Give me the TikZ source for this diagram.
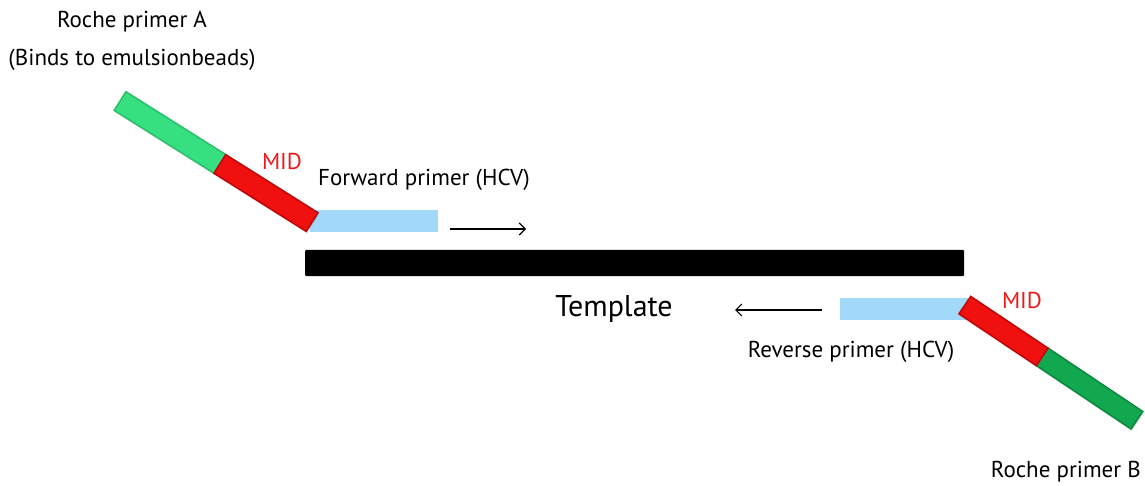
\documentclass[tikz,border=0pt]{standalone}
\usepackage{fontspec}
\setmainfont{PT Sans}
\usetikzlibrary{arrows.meta,shadows}
\definecolor{gA}{HTML}{36E080}
\definecolor{gAd}{HTML}{2CC06C}
\definecolor{gB}{HTML}{12A850}
\definecolor{gBd}{HTML}{0C8A40}
\definecolor{rd}{HTML}{F01010}
\definecolor{rdd}{HTML}{C00808}
\definecolor{bl}{HTML}{A2D8FA}
\definecolor{midred}{HTML}{F01818}
\begin{document}
\begin{tikzpicture}[x=1pt,y=-1pt,
  bar/.style={inner sep=0pt, outer sep=0pt, line width=1.6pt, drop shadow={shadow xshift=1pt,shadow yshift=-2pt,opacity=0.25}},
  primer/.style={fill=bl, inner sep=0pt, outer sep=0pt, draw=none},
  lbl/.style={font=\fontsize{23}{26}\selectfont, inner sep=0pt},
  midlbl/.style={font=\fontsize{23}{26}\selectfont, text=midred, inner sep=0pt},
  dir/.style={-{Straight Barb[length=6pt,width=12pt]}, line width=1.2pt}]
\useasboundingbox (0,0) rectangle (1145,486);
% Template
\node[fill=black, minimum width=659pt, minimum height=26pt, inner sep=0pt, rounded corners=1pt] (tpl) at (634.5,263) {};
\node[font=\fontsize{30}{34}\selectfont, inner sep=0pt] (tpltxt) at (614,309) {Template};
% Forward side
\node[bar, fill=gA, draw=gAd, minimum width=118pt, minimum height=22pt, rotate=-32.2] (greenA) at (170,132.5) {};
\node[primer, minimum width=128pt, minimum height=22pt] (fwd) at (374,221) {};
\node[bar, fill=rd, draw=rdd, minimum width=109pt, minimum height=22pt, rotate=-32.2] (redA) at (266,193) {};
\node[lbl] (fwdtxt) at (424,180) {Forward primer (HCV)};
\node[midlbl] (midA) at (282,161) {MID};
\node[lbl] (rocheA) at (132,22) {Roche primer A};
\node[lbl] (rocheAb) at (132,60) {(Binds to emulsionbeads)};
\coordinate (f1) at (450,229);
\coordinate (f2) at (526,229);
\draw[dir] (f1) -- (f2);
% Reverse side
\node[primer, minimum width=128pt, minimum height=22pt] (rev) at (904,308.5) {};
\node[bar, fill=gB, draw=gBd, minimum width=114pt, minimum height=21pt, rotate=-33.8] (greenB) at (1089.5,388.5) {};
\node[bar, fill=rd, draw=rdd, minimum width=93pt, minimum height=21pt, rotate=-33.8] (redB) at (1003.5,331) {};
\node[midlbl] (midB) at (1022,300) {MID};
\node[lbl] (revtxt) at (851,352) {Reverse primer (HCV)};
\node[lbl, anchor=east] (rocheB) at (1141,472) {Roche primer B};
\coordinate (r1) at (822,310);
\coordinate (r2) at (735,310);
\draw[dir] (r1) -- (r2);
\end{tikzpicture}
\end{document}
